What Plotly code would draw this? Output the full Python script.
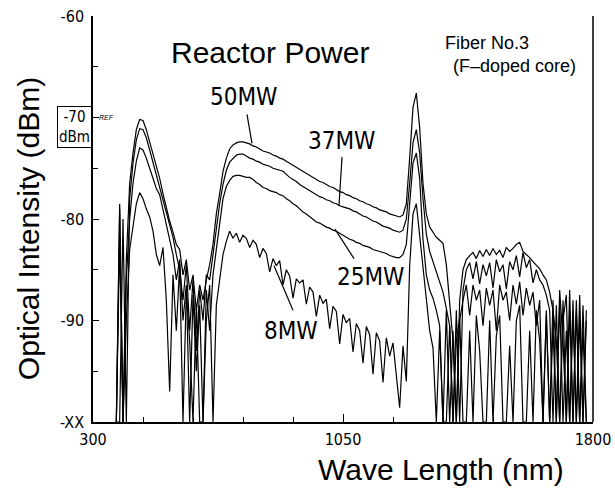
import plotly.graph_objects as go

# wavelength grid (nm), 370 ... 1780 step 10 (rows below hold 100 nm each)
wavelength = list(range(370, 1790, 10))

p50 = [
    -100, -79, -100, -84, -76.5, -73.5, -71.2, -70.2, -70.3, -71.2,
    -72.4, -73.6, -74.8, -76, -77.5, -79, -80.2, -81.3, -82.5, -83,
    -85.5, -84, -87, -85.5, -89, -86.5, -88, -86, -84.5, -82.5,
    -79.5, -77.5, -75.3, -74, -73.1, -72.7, -72.5, -72.4, -72.4, -72.5,
    -72.6, -72.8, -72.9, -73.1, -73.3, -73.4, -73.5, -73.7, -73.8, -74.0,
    -74.1, -74.3, -74.5, -74.7, -74.9, -75.1, -75.3, -75.5, -75.7, -75.9,
    -76.1, -76.3, -76.4, -76.6, -76.8, -76.9, -77.1, -77.3, -77.4, -77.6,
    -77.7, -77.9, -78.0, -78.2, -78.3, -78.5, -78.6, -78.8, -78.9, -79.1,
    -79.2, -79.3, -79.5, -79.6, -79.7, -79.8, -79.6, -78.5, -74, -69,
    -67.6, -71, -76.5, -79.5, -80.8, -81.3, -81.8, -82.1, -82.4, -84.5,
    -88.5, -92, -100, -88, -85, -84, -83.6, -83.3, -83.9, -83.1,
    -83.7, -83.0, -83.6, -82.9, -83.5, -83.1, -83.8, -82.8, -83.2, -82.9,
    -82.5, -82.3, -83.2, -83.5, -83.8, -84.2, -84.6, -84.9, -85.5, -86.0,
    -87.2, -89, -92, -100, -88, -100, -87, -100, -89, -100,
    -88.5, -100,
]

p37 = [
    -100, -100, -80, -100, -78, -74.5, -72.2, -71.1, -71.2, -72.0,
    -73.2, -74.4, -75.6, -76.8, -78, -79.3, -80.5, -81.8, -83.5, -85,
    -88, -84.5, -91, -86, -93, -87, -90, -85.5, -86, -83.5,
    -81, -78.5, -76.6, -75.2, -74.4, -74.0, -73.7, -73.6, -73.6, -73.8,
    -74.0, -74.1, -74.3, -74.4, -74.6, -74.7, -74.8, -75.0, -75.1, -75.2,
    -75.3, -75.6, -75.9, -76.1, -76.3, -76.6, -76.8, -77.0, -77.2, -77.4,
    -77.6, -77.8, -77.9, -78.1, -78.2, -78.4, -78.5, -78.7, -78.8, -78.9,
    -79.0, -79.2, -79.3, -79.5, -79.7, -79.8, -80.0, -80.2, -80.3, -80.5,
    -80.7, -80.8, -80.9, -81.1, -81.2, -81.3, -81.1, -80, -76.5, -72.5,
    -71.2, -73.5, -78, -81.5, -83.2, -84.2, -85, -86, -87.2, -88.8,
    -90.5, -100, -89, -100, -87, -85, -84.3, -85.9, -84.2, -86.4,
    -84.5, -85.6, -84.3, -86.8, -84, -85.2, -84.5, -86.9, -84.2, -85,
    -83.6, -85.7, -83.3, -84.8, -84, -86.3, -85, -86, -86.5, -87.5,
    -89, -100, -88.5, -100, -90, -87.5, -100, -88, -100, -90,
    -100, -89,
]

p25 = [
    -100, -82, -100, -86, -80, -76.5, -74.3, -73.0, -73.2, -74.0,
    -75.0, -76.0, -77.0, -77.6, -79, -80.5, -81.8, -83.5, -86, -84,
    -90, -86.5, -100, -87.5, -95, -88.5, -100, -87, -91, -85.5,
    -83, -80.5, -78.0, -76.8, -76.2, -75.8, -75.7, -75.7, -75.8, -75.9,
    -75.9, -76.1, -76.4, -76.6, -76.9, -77.0, -77.2, -77.3, -77.4, -77.6,
    -77.7, -78.0, -78.2, -78.5, -78.7, -79.0, -79.3, -79.5, -79.8, -80.0,
    -80.3, -80.4, -80.6, -80.8, -80.9, -81.1, -81.2, -81.4, -81.6, -81.8,
    -82.0, -82.1, -82.3, -82.4, -82.6, -82.7, -82.8, -83.0, -83.1, -83.2,
    -83.3, -83.4, -83.6, -83.7, -83.8, -83.8, -83.5, -82.5, -78.5, -74.5,
    -73.5, -76, -82, -85.5, -87, -87.8, -89, -90.5, -100, -89,
    -100, -91, -100, -90, -88, -86.5, -89.5, -86.5, -88, -87,
    -90.5, -86.8, -88.5, -87, -91, -86.5, -88, -87.2, -90, -86.5,
    -88.4, -86.2, -89.5, -86.8, -88.5, -87.2, -90.5, -88, -100, -89,
    -100, -90.5, -100, -88, -100, -91, -100, -89.5, -100, -87.5,
    -100, -90,
]

p8 = [
    -100, -78.5, -100, -90, -83, -80.5, -78.5, -77.4, -78.0, -79.0,
    -79.8, -81.2, -83.5, -84.6, -82.8, -88, -97, -85.5, -91, -84.5,
    -100, -87, -92, -100, -88.5, -100, -100, -90, -86.5, -100,
    -88.5, -86, -83.5, -82.2, -81.2, -81.9, -81.4, -82.3, -81.6, -81.9,
    -82.8, -82.1, -82.5, -83.8, -82.9, -83.4, -85.2, -83.9, -84.6, -84.1,
    -86.5, -85.0, -85.6, -87.8, -85.9, -86.3, -86.0, -88.4, -86.7, -87.2,
    -89.6, -87.5, -88.3, -87.9, -90.8, -88.6, -89.1, -92.3, -89.4, -90.2,
    -89.8, -93.1, -90.3, -91.0, -94.2, -90.6, -91.4, -95.3, -91.2, -92.0,
    -96.1, -91.7, -93.5, -92.2, -95.8, -98.6, -92.5, -96, -84.6, -79.5,
    -78.5, -81.5, -84.6, -88, -91, -92.7, -100, -91, -100, -100,
    -90.5, -100, -92, -89.8, -100, -100, -91, -100, -89.5, -93,
    -100, -100, -90, -100, -91.5, -89.5, -100, -100, -92.5, -100,
    -90, -88.5, -100, -100, -91, -100, -89, -92, -100, -89.5,
    -100, -88, -100, -87, -92, -100, -89, -100, -88, -100,
    -91, -100,
]

series = [("50MW", p50), ("37MW", p37), ("25MW", p25), ("8MW", p8)]

y_tickvals = [-100, -90, -80, -70, -60]
y_ticktext = ["-XX", "-90", "-80", "", "-60"]
x_tickvals = [300, 1050, 1800]
x_ticktext = ["300", "1050", "1800"]

NARROW = "DejaVu Sans Condensed, Liberation Sans Narrow, Arial Narrow, sans-serif"
SANS = "Liberation Sans, Arial, Helvetica, sans-serif"

fig = go.Figure()
for name, vals in series:
    fig.add_trace(go.Scatter(
        x=wavelength, y=vals, mode="lines", name=name,
        line=dict(color="black", width=1.2), showlegend=False,
    ))

fig.update_layout(
    template="none",
    width=615, height=491,
    margin=dict(l=93, r=22, t=16, b=69, pad=0),
    paper_bgcolor="white", plot_bgcolor="white",
    xaxis=dict(
        range=[300, 1800], showgrid=False, zeroline=False, automargin=False,
        showline=True, linecolor="black", linewidth=1.5,
        tickvals=x_tickvals, ticktext=x_ticktext,
        ticks="inside", ticklen=8, tickcolor="black", tickwidth=1.2,
        minor=dict(dtick=150, tick0=300, ticks="inside", ticklen=5, tickcolor="black", showgrid=False),
        tickfont=dict(family=NARROW, size=16, color="black"),
        ticklabelstandoff=2,
    ),
    yaxis=dict(
        range=[-100, -60], showgrid=False, zeroline=False, automargin=False,
        showline=True, linecolor="black", linewidth=1.5,
        tickvals=y_tickvals, ticktext=y_ticktext,
        ticks="inside", ticklen=6, tickcolor="black", tickwidth=1.2,
        minor=dict(dtick=5, tick0=-100, ticks="inside", ticklen=5, tickcolor="black", showgrid=False),
        tickfont=dict(family=NARROW, size=16, color="black"),
        ticklabelstandoff=4,
    ),
)

# right frame line
fig.add_shape(type="line", xref="paper", yref="paper", x0=1, x1=1, y0=0, y1=1,
              line=dict(color="black", width=1.5))

# leader lines from labels to curves
leaders = [
    (762, -69.7, 777, -72.55),
    (1047, -73.9, 1038, -78.7),
    (1083, -83.9, 1026, -81.0),
    (900, -89.0, 843, -84.6),
]
for x0, y0, x1, y1 in leaders:
    fig.add_shape(type="line", xref="x", yref="y", x0=x0, y0=y0, x1=x1, y1=y1,
                  line=dict(color="black", width=1.2))

labels = [("50MW", 750, -68.0), ("37MW", 1044, -72.35), ("25MW", 1131, -85.7), ("8MW", 894, -91.0)]
for t, x, y in labels:
    fig.add_annotation(x=x, y=y, xref="x", yref="y", text=t, showarrow=False,
                       xanchor="center", yanchor="middle",
                       font=dict(family=NARROW, size=24, color="black"))

fig.add_annotation(x=831, y=-63.6, xref="x", yref="y", text="Reactor Power", showarrow=False,
                   xanchor="center", yanchor="middle",
                   font=dict(family=SANS, size=30, color="black"))
fig.add_annotation(x=1482, y=-62.7, xref="x", yref="y", text="Fiber No.3", showarrow=False,
                   xanchor="center", yanchor="middle",
                   font=dict(family=SANS, size=18, color="black"))
fig.add_annotation(x=1563, y=-64.9, xref="x", yref="y", text="(F\u2013doped core)", showarrow=False,
                   xanchor="center", yanchor="middle",
                   font=dict(family=SANS, size=18, color="black"))

# boxed REF level label
fig.add_annotation(x=-0.037, y=-70.9, xref="paper", yref="y", text="-70<br>dBm", showarrow=False,
                   xanchor="center", yanchor="middle",
                   font=dict(family=NARROW, size=15, color="black"),
                   bordercolor="black", borderwidth=1, borderpad=1, bgcolor="white")
fig.add_annotation(x=341, y=-70, xref="x", yref="y", text="<i>REF</i>", showarrow=False,
                   xanchor="center", yanchor="middle",
                   font=dict(family=SANS, size=7, color="black"))

# axis titles
fig.add_annotation(x=-0.13, y=-81.0, xref="paper", yref="y", text="Optical Intensity (dBm)",
                   textangle=-90, showarrow=False, xanchor="center", yanchor="middle",
                   font=dict(family=SANS, size=30, color="black"))
fig.add_annotation(x=0.696, y=-0.117, xref="paper", yref="paper", text="Wave Length (nm)",
                   showarrow=False, xanchor="center", yanchor="middle",
                   font=dict(family=SANS, size=30, color="black"))

fig.write_html("out.html", config={"displayModeBar": False},
               post_script="document.body.style.margin='0px';")
